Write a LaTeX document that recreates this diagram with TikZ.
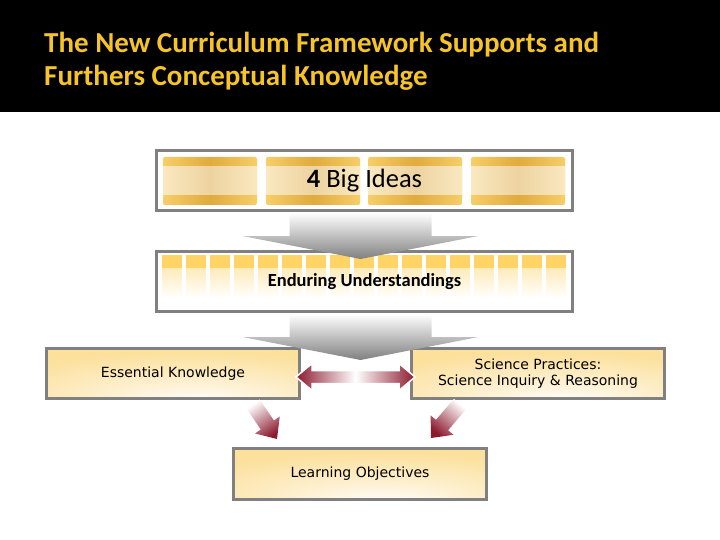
\documentclass[tikz,border=0pt]{standalone}
\usepackage{fontspec}
\setmainfont{Carlito}
\newfontfamily\labelfont{DejaVu Sans}
\usetikzlibrary{calc}
\definecolor{titlegold}{RGB}{246,196,40}
\definecolor{framegray}{RGB}{128,128,128}
\definecolor{boxgold}{RGB}{252,224,156}
\definecolor{bandgold}{RGB}{247,206,104}
\definecolor{banddark}{RGB}{224,170,62}
\definecolor{midlight}{RGB}{250,232,192}
\definecolor{middark}{RGB}{237,211,160}
\definecolor{squaregold}{RGB}{255,211,102}
\definecolor{arrowred}{RGB}{140,26,46}
\pgfdeclareradialshading{boxglow}{\pgfpoint{5bp}{-30bp}}{color(0bp)=(white); color(16bp)=(boxgold!45); color(40bp)=(boxgold); color(100bp)=(boxgold)}

\begin{document}
\begin{tikzpicture}[x=1pt, y=-1pt,
    frame/.style = {draw=framegray, line width=3pt, inner sep=0pt},
    card/.style = {frame, shade, shading=boxglow, minimum width=253pt, minimum height=50pt,
      align=center, font=\labelfont\fontsize{14}{16.5}\selectfont},
    chevron/.style = {top color=white, bottom color=black!50},
    twoway/.style = {draw=white, line width=1.5pt},
    slant arrow/.style = {top color=white, bottom color=arrowred}]
    \useasboundingbox (0,0) rectangle (720,540);

    % Title bar
    \fill[black] (0,0) rectangle (720,112);
    \node[anchor=north west, inner sep=0pt, align=left, text=titlegold,
      font=\bfseries\fontsize{29}{33}\selectfont] (title) at (44,32)
      {The New Curriculum Framework Supports and\\Furthers Conceptual Knowledge};

    % Big ideas bands
    \foreach \sx in {163,266,368,471} {
      \shade[rounded corners=2pt, left color=bandgold, right color=bandgold, middle color=banddark]
        (\sx,157) rectangle ++(94,48);
      \shade[left color=midlight, right color=midlight, middle color=middark]
        (\sx,167) rectangle ++(94,28);
    }
    \node[frame, minimum width=416pt, minimum height=60pt,
      font=\fontsize{26.5}{30}\selectfont] (ideas) at (364.5,180.5) {\textbf{4} Big Ideas};

    % Enduring understandings squares
    \foreach \i in {0,...,16} {
      \fill[squaregold] (162+24*\i,255) rectangle ++(20,13);
      \shade[top color=squaregold!45, bottom color=white] (162+24*\i,268) rectangle ++(20,30);
    }
    \node[frame, minimum width=416pt, minimum height=60pt,
      font=\bfseries\fontsize{18.5}{20}\selectfont] (enduring) at (364.5,281.5) {Enduring Understandings};

    % Lower boxes
    \node[card] (ek) at (173,373.5) {Essential Knowledge};
    \node[card] (sp) at (538,373.5) {Science Practices:\\Science Inquiry \& Reasoning};
    \node[card, minimum height=51pt] (lo) at (360,474) {Learning Objectives};

    % Gray arrows
    \shade[chevron] ($(ideas.south)+(-75,1)$) -- ++(142,0) -- ++(0,23) -- ++(47,0)
      -- ($(enduring.north)+(-4,9)$) -- ($(ideas.south)+(-122,24)$) -- ++(47,0) -- cycle;
    \shade[chevron] ($(enduring.south)+(-75,1)$) -- ++(142,0) -- ++(0,23) -- ++(47,0)
      -- ($(enduring.south)+(-4,47)$) -- ($(enduring.south)+(-122,24)$) -- ++(47,0) -- cycle;

    % Two way arrow
    \coordinate (ltip) at ($(ek.east)+(-5,3.5)$);
    \coordinate (rtip) at ($(sp.west)+(5,3.5)$);
    \coordinate (mid) at ($(ltip)!0.5!(rtip)$);
    \shade[twoway, left color=arrowred, right color=white] (ltip) -- ++(16,-13.5) -- ++(0,7)
      -- ($(mid)+(0,-6.5)$) -- ($(mid)+(0,6.5)$) -- ($(ltip)+(16,6.5)$) -- ++(0,7) -- cycle;
    \shade[twoway, left color=white, right color=arrowred] (rtip) -- ++(-16,-13.5) -- ++(0,7)
      -- ($(mid)+(0,-6.5)$) -- ($(mid)+(0,6.5)$) -- ($(rtip)+(-16,6.5)$) -- ++(0,7) -- cycle;

    % Arrows to learning objectives
    \coordinate (ekfoot) at ($(ek.south east)+(-48,4)$);
    \coordinate (lotipl) at ($(lo.north west)+(45,-8)$);
    \coordinate (spfoot) at ($(sp.south west)+(50,4)$);
    \coordinate (lotipr) at ($(lo.north east)+(-57,-9)$);
    \foreach \s/\t/\a in {ekfoot/lotipl/34, spfoot/lotipr/-40} {
      \coordinate (h) at ($(\t)!17pt!(\s)$);
      \shade[slant arrow, shading angle=\a] ($(\s)!8pt!90:(\t)$) -- ($(h)!8pt!90:(\t)$)
        -- ($(h)!15pt!90:(\t)$) -- (\t) -- ($(h)!15pt!-90:(\t)$) -- ($(h)!8pt!-90:(\t)$)
        -- ($(\s)!8pt!-90:(\t)$) -- cycle;
    }

\end{tikzpicture}
\end{document}
